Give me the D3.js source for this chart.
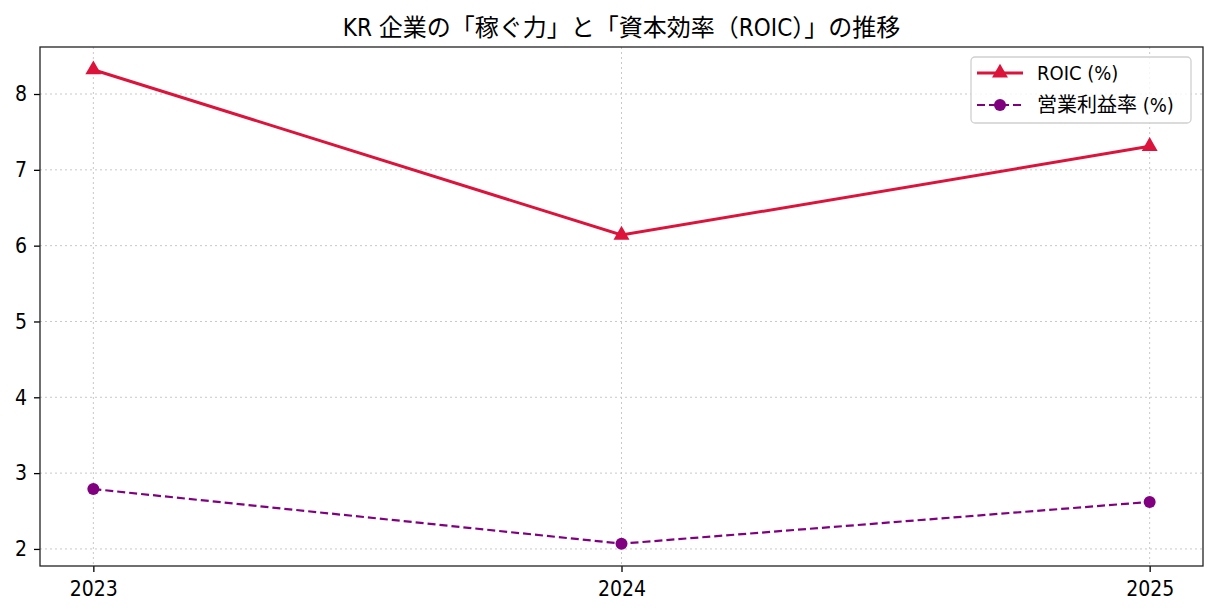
<!DOCTYPE html>
<html>
<head>
<meta charset="utf-8">
<script src="https://cdn.jsdelivr.net/npm/d3@7"></script>
<style>
  body { margin: 0; background: #fff; }
  text { font-family: "Liberation Sans Narrow", "DejaVu Sans Condensed", "Noto Sans CJK JP", sans-serif; font-stretch: condensed; fill: #000; }
</style>
</head>
<body>
<script>
// data
const years = ["2023", "2024", "2025"];
const roic = [8.32, 6.14, 7.31];
const opMargin = [2.79, 2.07, 2.62];
const yTicks = [2, 3, 4, 5, 6, 7, 8];
const titleText = "KR 企業の「稼ぐ力」と「資本効率（ROIC）」の推移";
const seriesNames = ["ROIC (%)", "営業利益率 (%)"];

const width = 1217, height = 616;
const margin = {left: 40, right: 14, top: 47, bottom: 50};

const svg = d3.select("body").append("svg")
  .attr("width", width)
  .attr("height", height);

// matplotlib-style 5% side margins
const x = d3.scalePoint()
  .domain(years)
  .range([margin.left, width - margin.right])
  .padding(0.101);

const y = d3.scaleLinear()
  .domain([1.775, 8.62])
  .range([height - margin.bottom, margin.top]);

// grid
const grid = svg.append("g")
  .attr("stroke", "#c8c8c8")
  .attr("stroke-width", 1)
  .attr("stroke-dasharray", "2,3");
grid.selectAll(".gx").data(years).enter().append("line")
  .attr("x1", d => x(d)).attr("x2", d => x(d))
  .attr("y1", margin.top).attr("y2", height - margin.bottom);
grid.selectAll(".gy").data(yTicks).enter().append("line")
  .attr("x1", margin.left).attr("x2", width - margin.right)
  .attr("y1", d => y(d)).attr("y2", d => y(d));

// axes
const xAxis = svg.append("g")
  .attr("transform", `translate(0,${height - margin.bottom})`)
  .call(d3.axisBottom(x).tickSizeOuter(0).tickSize(6).tickPadding(6));
const yAxis = svg.append("g")
  .attr("transform", `translate(${margin.left},0)`)
  .call(d3.axisLeft(y).tickValues(yTicks).tickFormat(d3.format("d")).tickSizeOuter(0).tickSize(6).tickPadding(7));
[xAxis, yAxis].forEach(a => {
  a.select(".domain").remove();
  a.selectAll("line").attr("stroke", "#000").attr("stroke-width", 1.3);
  a.selectAll("text").style("font-size", "21px").attr("font-family", null);
});
xAxis.selectAll("text").attr("dy", "0.85em");

// frame
svg.append("rect")
  .attr("x", margin.left).attr("y", margin.top)
  .attr("width", width - margin.right - margin.left)
  .attr("height", height - margin.bottom - margin.top)
  .attr("fill", "none").attr("stroke", "#222").attr("stroke-width", 1.3);

const line = d3.line().x((d, i) => x(years[i])).y(d => y(d));
const tri = d3.symbol().type(d3.symbolTriangle).size(110);

// ROIC
svg.append("path").datum(roic)
  .attr("d", line).attr("fill", "none")
  .attr("stroke", "crimson").attr("stroke-width", 3);
svg.selectAll(".roicPt").data(roic).enter().append("path")
  .attr("d", tri)
  .attr("transform", (d, i) => `translate(${x(years[i])},${y(d)})`)
  .attr("fill", "crimson");

// operating margin
svg.append("path").datum(opMargin)
  .attr("d", line).attr("fill", "none")
  .attr("stroke", "purple").attr("stroke-width", 2.2)
  .attr("stroke-dasharray", "8,4");
svg.selectAll(".opPt").data(opMargin).enter().append("circle")
  .attr("cx", (d, i) => x(years[i])).attr("cy", d => y(d))
  .attr("r", 6).attr("fill", "purple");

// title
svg.append("text")
  .attr("x", (margin.left + width - margin.right) / 2).attr("y", 36)
  .attr("text-anchor", "middle")
  .style("font-size", "24px")
  .text(titleText);

// legend
const lg = svg.append("g").attr("transform", "translate(971,57)");
lg.append("rect").attr("width", 220).attr("height", 66).attr("rx", 4)
  .attr("fill", "#fff").attr("fill-opacity", 0.8)
  .attr("stroke", "#d0d0d0").attr("stroke-width", 1.3);
lg.append("line").attr("x1", 6).attr("x2", 52).attr("y1", 16).attr("y2", 16)
  .attr("stroke", "crimson").attr("stroke-width", 3);
lg.append("path").attr("d", tri).attr("transform", "translate(29,16)").attr("fill", "crimson");
lg.append("line").attr("x1", 6).attr("x2", 52).attr("y1", 48).attr("y2", 48)
  .attr("stroke", "purple").attr("stroke-width", 2.2).attr("stroke-dasharray", "8,4");
lg.append("circle").attr("cx", 29).attr("cy", 48).attr("r", 6).attr("fill", "purple");
lg.selectAll(".lt").data(seriesNames).enter().append("text")
  .attr("x", 66).attr("y", (d, i) => 16 + i * 32)
  .attr("dy", "0.35em")
  .style("font-size", "20px")
  .text(d => d);
</script>
</body>
</html>
